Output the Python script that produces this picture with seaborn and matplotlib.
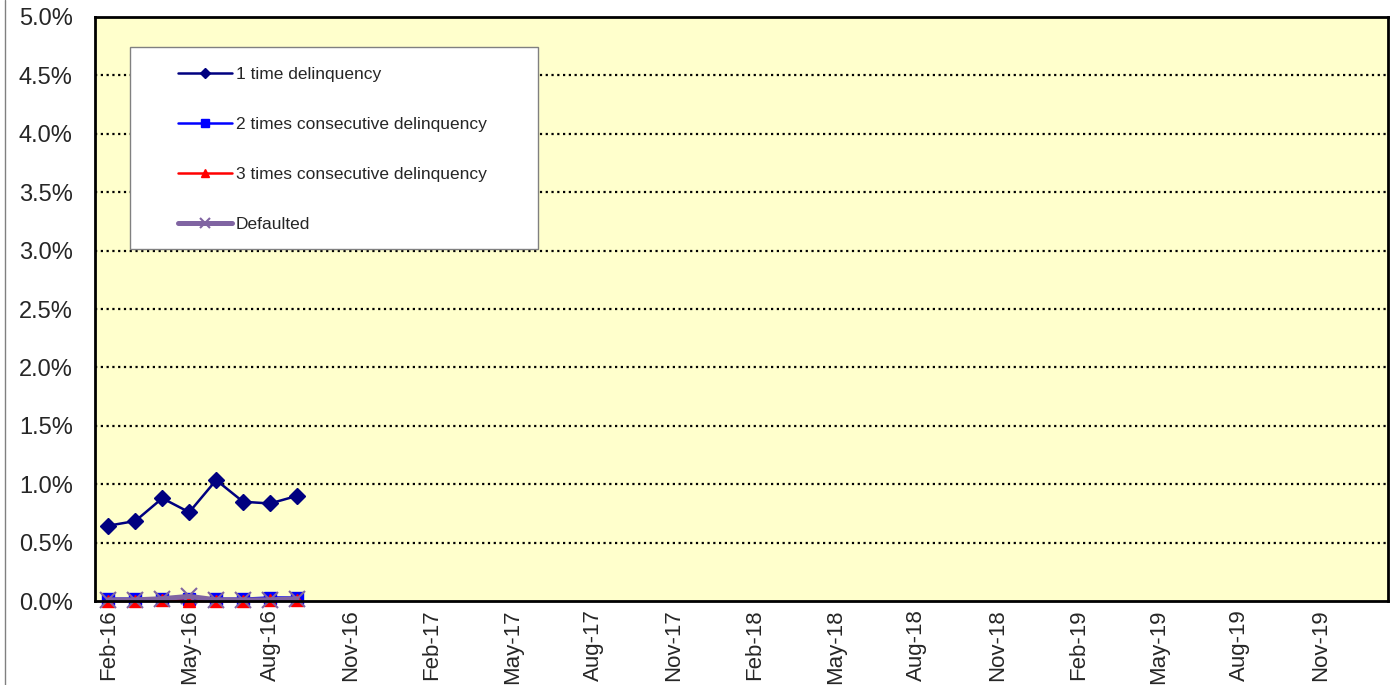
import pandas as pd
import numpy as np
import matplotlib
matplotlib.use("Agg")
import matplotlib.pyplot as plt
import matplotlib.ticker as mtick
from matplotlib.patches import Rectangle
from matplotlib.lines import Line2D
import seaborn as sns

# Monthly axis (category axis, Feb-16 .. Jan-20)
months = pd.date_range("2016-02-01", periods=48, freq="MS")
month_labels = [m.strftime("%b-%y") for m in months]

# Observed months (Feb-16 .. Sep-16)
one_time = [0.00645, 0.00685, 0.0088, 0.0076, 0.01035, 0.0085, 0.00835, 0.0090]
two_times = [0.0002, 0.0002, 0.0002, 0.0002, 0.0002, 0.0002, 0.0003, 0.0003]
three_times = [0.0000, 0.0000, 0.0001, 0.0000, 0.0000, 0.0000, 0.0001, 0.0001]
defaulted = [0.0001, 0.0001, 0.0002, 0.0004, 0.0001, 0.0001, 0.0001, 0.0002]

series_names = ["1 time delinquency", "2 times consecutive delinquency",
                "3 times consecutive delinquency", "Defaulted"]

sns.set_style("white")
plt.rcParams["font.family"] = ["Liberation Sans", "DejaVu Sans"]

fig = plt.figure(figsize=(13.94, 6.85), dpi=100)
ax = fig.add_axes([0.0681, 0.1226, 0.9276, 0.8526])
ax.set_facecolor("#FFFFCC")

x = np.arange(len(one_time))

styles = [
    (one_time, "#000080", "D", 8, 1.8),
    (two_times, "#0000FF", "s", 9, 1.8),
    (three_times, "#FF0000", "^", 9, 1.8),
    (defaulted, "#8064A2", "x", 12, 3.6),
]
for (vals, color, marker, ms, lw), name in zip(styles, series_names):
    sns.lineplot(x=x, y=vals, ax=ax, color=color, marker=marker, markersize=ms,
                 linewidth=lw, markeredgecolor=color, markeredgewidth=1.5 if marker == "x" else 1,
                 label=name, zorder=3, clip_on=False)

ax.set_xlim(-0.5, len(months) - 0.5)
ax.set_ylim(0, 0.05)
ax.yaxis.set_major_locator(mtick.MultipleLocator(0.005))
ax.yaxis.set_major_formatter(mtick.PercentFormatter(1, decimals=1))

tick_pos = np.arange(0, len(months), 3)
ax.set_xticks(tick_pos)
ax.set_xticklabels([month_labels[i] for i in tick_pos], rotation=90, fontsize=16, va="top", ha="center")
ax.tick_params(axis="x", length=0, pad=6)
ax.tick_params(axis="y", length=0, pad=16, labelsize=17)

ax.grid(False)
for yv in np.arange(0.005, 0.05, 0.005):
    ax.axhline(yv, color="black", linewidth=1.6, linestyle=(0, (1, 1.6)), zorder=1)

for sp in ax.spines.values():
    sp.set_color("black")
    sp.set_linewidth(2)
    sp.set_zorder(5)

# legend box drawn separately (Excel style wide box)
ax.add_patch(Rectangle((0.027, 0.603), 0.316, 0.3456, transform=ax.transAxes,
                       facecolor="white", edgecolor="#808080", linewidth=1, zorder=4))
leg = ax.legend(loc="upper left", bbox_to_anchor=(0.0642, 0.9145), borderaxespad=0,
                borderpad=0, frameon=False, fontsize=12.5, labelspacing=2.0,
                handlelength=3.1, handletextpad=0.25, markerscale=0.6)
leg.set_zorder(6)

fig.add_artist(Line2D([5 / 1394, 5 / 1394], [0, 1], transform=fig.transFigure,
                      color="#808080", linewidth=1))

fig.savefig("out.png", dpi=100)
